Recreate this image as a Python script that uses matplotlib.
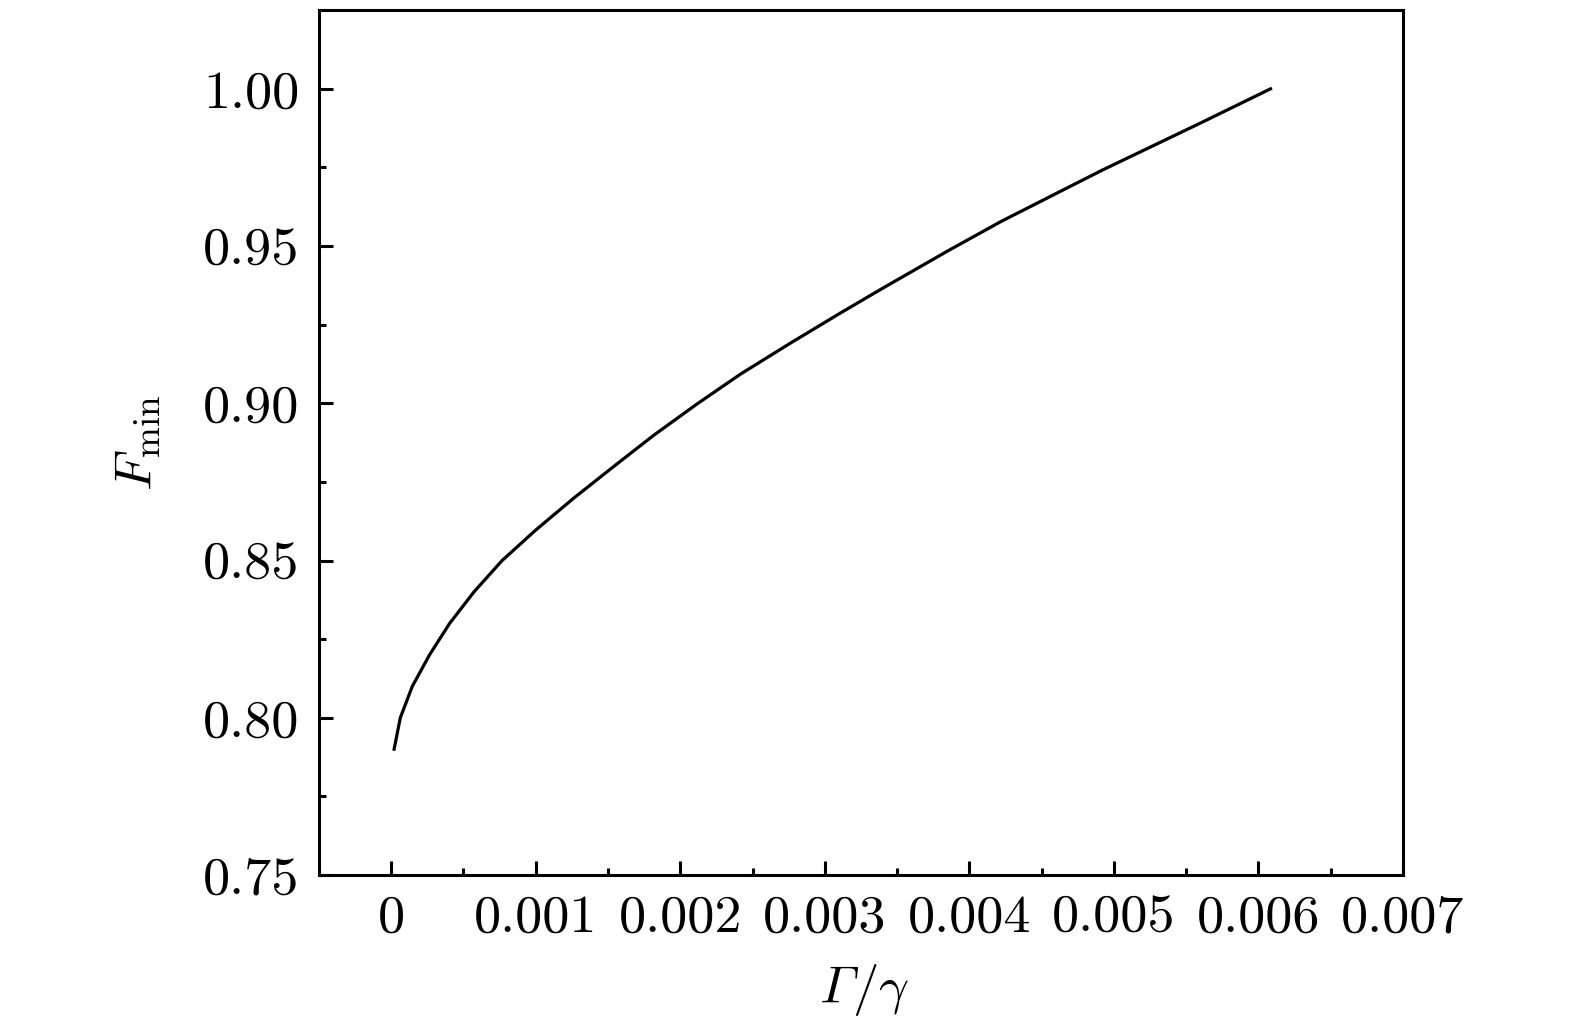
import os
import numpy as np
import matplotlib
matplotlib.use("Agg")
import matplotlib.pyplot as plt
from matplotlib.ticker import MultipleLocator
from matplotlib.font_manager import FontProperties

plt.rcParams['font.family'] = 'serif'
plt.rcParams['font.serif'] = ['cmr10', 'DejaVu Serif']
plt.rcParams['mathtext.fontset'] = 'cm'
plt.rcParams['axes.unicode_minus'] = False

# Curve
gamma_ratio = [0.00002, 0.000063, 0.000146, 0.000265, 0.000404, 0.000572, 0.000767,
               0.001000, 0.001259, 0.001514, 0.001815, 0.002116, 0.002417, 0.002764,
               0.003111, 0.003389, 0.003852, 0.004222, 0.004917, 0.005611, 0.006083]
f_min = [0.790, 0.800, 0.810, 0.820, 0.830, 0.840, 0.850,
         0.8597, 0.8697, 0.8790, 0.8898, 0.8998, 0.9093, 0.9192,
         0.9288, 0.9363, 0.9485, 0.9579, 0.9741, 0.9894, 1.000]

x_ticks = [0, 0.001, 0.002, 0.003, 0.004, 0.005, 0.006, 0.007]
x_ticklabels = ['0', '0.001', '0.002', '0.003', '0.004', '0.005', '0.006', '0.007']
y_ticks = [0.75, 0.80, 0.85, 0.90, 0.95, 1.00]
y_ticklabels = ['0.75', '0.80', '0.85', '0.90', '0.95', '1.00']

fig = plt.figure(figsize=(15.75, 10.24), dpi=100)
ax = fig.add_axes([0.2025, 0.1455, 0.6883, 0.8445])

ax.plot(gamma_ratio, f_min, color='black', linewidth=2.3)

ax.set_xlim(-0.0005, 0.007)
ax.set_ylim(0.75, 1.025)
ax.set_xticks(x_ticks)
ax.set_xticklabels(x_ticklabels)
ax.set_yticks(y_ticks)
ax.set_yticklabels(y_ticklabels)
ax.xaxis.set_minor_locator(MultipleLocator(0.0005))
ax.yaxis.set_minor_locator(MultipleLocator(0.025))

ax.tick_params(which='both', direction='in', top=False, right=False,
               labelsize=39, width=2.2, pad=14)
ax.tick_params(which='major', length=10)
ax.tick_params(which='minor', length=5)
for s in ax.spines.values():
    s.set_linewidth(2.2)

ax.set_ylabel(r'$F_{\rm min}$', fontsize=38, labelpad=29)

# x label: italic capital Gamma from cmmi10, then "/gamma" in mathtext
cmmi = os.path.join(matplotlib.get_data_path(), 'fonts', 'ttf', 'cmmi10.ttf')
split = 0.541
fig.text(split, 0.0208, '\u00a1', fontproperties=FontProperties(fname=cmmi, size=38),
         ha='right', va='baseline')
fig.text(split, 0.0208, r'$/\gamma$', fontsize=38, ha='left', va='baseline')

fig.savefig('out.png', dpi=100)
